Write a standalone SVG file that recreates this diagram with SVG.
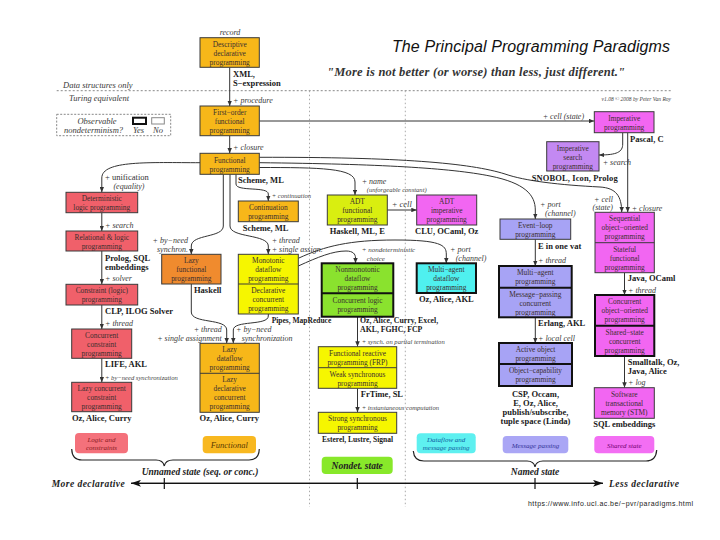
<svg xmlns="http://www.w3.org/2000/svg" width="720" height="540" viewBox="0 0 720 540">
<defs>
<marker id="a" viewBox="0 0 6 5" markerWidth="5.5" markerHeight="4.5" refX="6" refY="2.5" orient="auto" markerUnits="userSpaceOnUse"><path d="M0,0 L6,2.5 L0,5 z" fill="#333"/></marker>
<marker id="ax" viewBox="0 0 10 7" markerWidth="10" markerHeight="7" refX="10" refY="3.5" orient="auto" markerUnits="userSpaceOnUse"><path d="M0,0 L10,3.5 L0,7 L2.5,3.5 z" fill="#111"/></marker>
<style>
.b{stroke:#3a3a3a;stroke-width:1}
.k{stroke:#111;stroke-width:2}
.t{font-family:"Liberation Serif",serif;font-size:7.4px;fill:#3b2f2f;text-anchor:middle}
.L{font-family:"Liberation Serif",serif;font-size:8.5px;font-weight:bold;fill:#1a1a1a}
.i{font-family:"Liberation Serif",serif;font-size:8px;font-style:italic;fill:#3a3a3a}
.s{font-family:"Liberation Serif",serif;font-size:6.6px;font-style:italic;fill:#444}
.c{fill:none;stroke:#333;stroke-width:1;marker-end:url(#a)}
.m{text-anchor:middle}
.e{text-anchor:end}
.or{fill:#f7b719}.lf{fill:#f08b2e}.rd{fill:#f0606a}.ye{fill:#f6f600}.yg{fill:#d9ee10}
.gr{fill:#8ae22e}.cy{fill:#4ff0ef}.lv{fill:#a7a3f5}.mg{fill:#f266f2}.pu{fill:#c389f2}
.p{font-family:"Liberation Serif",serif;font-style:italic;text-anchor:middle}
.h{font-family:"Liberation Serif",serif;font-style:italic;font-weight:bold;font-size:9.5px;fill:#222}
</style>
</defs>
<rect width="720" height="540" fill="#fff"/>

<g id="title">
<text x="392" y="52" font-family="Liberation Sans,sans-serif" font-style="italic" font-size="16" textLength="278" fill="#111">The Principal Programming Paradigms</text>
<text x="327" y="75.5" font-family="Liberation Serif,serif" font-style="italic" font-weight="bold" font-size="12.5" textLength="298" fill="#333">"More is not better (or worse) than less, just different."</text>
<text x="671" y="100.5" class="s e" style="font-size:5.5px">v1.08 © 2008 by Peter Van Roy</text>
</g>

<g id="regions" fill="none">
<line x1="56.7" y1="90.7" x2="672.7" y2="90.7" stroke="#888" stroke-dasharray="2,2"/>
<line x1="309.5" y1="90.7" x2="309.5" y2="507" stroke="#aaa" stroke-dasharray="1.5,2.5"/>
<line x1="405.3" y1="90.7" x2="405.3" y2="507" stroke="#aaa" stroke-dasharray="1.5,2.5"/>
<text x="63" y="88" class="i" style="font-size:8.5px">Data structures only</text>
<text x="69" y="100.5" class="i" style="font-size:8.5px">Turing equivalent</text>
</g>

<g id="legend">
<rect x="56.7" y="114.3" width="114" height="21.4" fill="none" stroke="#888" stroke-dasharray="2,1.5"/>
<text x="97" y="123.5" class="i m" style="font-size:8.5px">Observable</text>
<rect x="133" y="117.7" width="13" height="6.3" fill="none" stroke="#111" stroke-width="2"/>
<rect x="151.7" y="117.7" width="12.6" height="6.3" fill="none" stroke="#888" stroke-width="1"/>
<text x="64" y="132.5" class="i" style="font-size:8.5px">nondeterminism?</text>
<text x="133" y="132.5" class="i" style="font-size:8.5px">Yes</text>
<text x="153" y="132.5" class="i" style="font-size:8.5px">No</text>
</g>

<g id="connectors">
<path class="c" d="M229.7,67.3 L229.7,106"/>
<path class="c" d="M229.7,135.7 L229.7,153.3"/>
<path class="c" d="M259.3,121 L594.3,121"/>
<path class="c" d="M200,162.7 C150,162.7 101.8,160 101.8,178 L101.8,192.3"/>
<path class="c" d="M101.8,212.7 L101.8,231"/>
<path class="c" d="M101.8,251 L101.8,284.3"/>
<path class="c" d="M101.8,305 L101.8,329"/>
<path class="c" d="M101.8,358.3 L101.8,382.3"/>
<path class="c" d="M223.3,174.3 L223.3,226 C223.3,238 191.3,234 191.3,246 L191.3,254.3"/>
<path class="c" d="M230,174.3 L230,226 C230,238 268.3,234 268.3,246 L268.3,254.3"/>
<path class="c" d="M236,174.3 L236,184 C236,192 268.3,186 268.3,194 L268.3,201"/>
<path class="c" d="M191.3,284 L191.3,312 C191.3,324 226.7,318 226.7,330 L226.7,343.3"/>
<path class="c" d="M268.3,314 L268.3,316 C268.3,326 233.3,320 233.3,330 L233.3,343.3"/>
<path class="c" d="M298.3,258.3 C325,246 350,240 395,240 C440,240 446.3,245 446.3,254 L446.3,263.3"/>
<path class="c" d="M298.3,266 C318,257 333,251 346,251 C353,251 355.5,254 355.5,258 L355.5,263.3"/>
<path class="c" d="M387.3,210 L416.7,210"/>
<path class="c" d="M259.3,167.5 C320,167.5 355,168 355,182 L355,195"/>
<path class="c" d="M259.3,162.7 C380,164 450,168 490,176 C525,183 535.3,195 535.3,210 L535.3,219"/>
<path class="c" d="M259.3,157.3 C400,157 470,163 505,174 C525,181 560,185 600,187 C616,188 621.7,196 621.7,212.3"/>
<path class="c" d="M622.7,132.7 L622.7,144 C622.7,152 617,155 599,155"/>
<path class="c" d="M627.7,132.7 L627.7,212.3"/>
<path class="c" d="M535.3,239.3 L535.3,266"/>
<path class="c" d="M535.3,317.3 L535.3,343"/>
<path class="c" d="M624.5,272.7 L624.5,295"/>
<path class="c" d="M624.5,356 L624.5,387.7"/>
<path class="c" d="M357.5,316.7 L357.5,346.7"/>
<path class="c" d="M357.5,388.3 L357.5,412.3"/>
</g>

<g id="labels">
<text x="230" y="35" class="i m">record</text>
<text x="233" y="77" class="L">XML,</text>
<text x="233" y="85.5" class="L">S−expression</text>
<text x="233" y="102.5" class="i">+ procedure</text>
<text x="233" y="150.3" class="i">+ closure</text>
<text x="542.7" y="118.5" class="i">+ cell (state)</text>
<text x="630" y="141.8" class="L">Pascal, C</text>
<text x="602.7" y="165.3" class="i">+ search</text>
<text x="531.7" y="180.8" class="L" textLength="86">SNOBOL, Icon, Prolog</text>
<text x="238" y="182.8" class="L">Scheme, ML</text>
<text x="105" y="180" class="L" style="font-weight:normal;fill:#333">+ unification</text>
<text x="129" y="189" class="i m">(equality)</text>
<text x="271.7" y="198" class="s">+ continuation</text>
<text x="242.7" y="230.5" class="L">Scheme, ML</text>
<text x="105" y="227.5" class="i">+ search</text>
<text x="105" y="261" class="L">Prolog, SQL</text>
<text x="105" y="270" class="L">embeddings</text>
<text x="105" y="281" class="i">+ solver</text>
<text x="105" y="313.8" class="L">CLP, ILOG Solver</text>
<text x="105" y="326" class="i">+ thread</text>
<text x="105" y="367" class="L">LIFE, AKL</text>
<text x="105" y="379.8" class="s">+ by−need synchronization</text>
<text x="101.7" y="421" class="L m">Oz, Alice, Curry</text>
<text x="188" y="242.5" class="i e">+ by−need</text>
<text x="188" y="252" class="i e">synchron.</text>
<text x="194" y="292.8" class="L">Haskell</text>
<text x="271.7" y="242.5" class="i">+ thread</text>
<text x="271.7" y="252" class="i">+ single assign.</text>
<text x="271.7" y="323" class="L" style="font-size:7.5px">Pipes, MapReduce</text>
<text x="221.7" y="331.5" class="i e">+ thread</text>
<text x="221.7" y="341" class="i e">+ single assignment</text>
<text x="236" y="331.5" class="i">+ by−need</text>
<text x="241.7" y="341" class="i">synchronization</text>
<text x="229.3" y="421" class="L m">Oz, Alice, Curry</text>
<text x="361.7" y="183.5" class="i">+ name</text>
<text x="366.7" y="192.3" class="s">(unforgeable constant)</text>
<text x="357.3" y="233.5" class="L m">Haskell, ML, E</text>
<text x="391.7" y="207" class="i" style="font-size:8.5px">+ cell</text>
<text x="446.7" y="233.5" class="L m">CLU, OCaml, Oz</text>
<text x="361.7" y="251.5" class="s" style="font-size:7px">+ nondeterministic</text>
<text x="366.7" y="260.5" class="s" style="font-size:7px">choice</text>
<text x="450" y="251.5" class="i">+ port</text>
<text x="455.7" y="260.5" class="i">(channel)</text>
<text x="446.3" y="302" class="L m">Oz, Alice, AKL</text>
<text x="360" y="322.5" class="L" style="font-size:7.8px">Oz, Alice, Curry, Excel,</text>
<text x="360" y="331.5" class="L" style="font-size:7.8px">AKL, FGHC, FCP</text>
<text x="361.7" y="344" class="s">+ synch. on partial termination</text>
<text x="360.7" y="396.8" class="L">FrTime, SL</text>
<text x="361.7" y="409.8" class="s">+ instantaneous computation</text>
<text x="357.5" y="441.5" class="L m" style="font-size:7.5px">Esterel, Lustre, Signal</text>
<text x="540" y="207" class="i">+ port</text>
<text x="545" y="215.5" class="i">(channel)</text>
<text x="613" y="201.5" class="i e">+ cell</text>
<text x="613" y="210" class="i e">(state)</text>
<text x="631.7" y="210.5" class="i">+ closure</text>
<text x="538" y="248.5" class="L">E in one vat</text>
<text x="538" y="262.5" class="i">+ thread</text>
<text x="538" y="325.8" class="L">Erlang, AKL</text>
<text x="538" y="340.5" class="i">+ local cell</text>
<text x="535.5" y="397" class="L m">CSP, Occam,</text>
<text x="535.5" y="405.5" class="L m">E, Oz, Alice,</text>
<text x="535.5" y="414.5" class="L m">publish/subscribe,</text>
<text x="535.5" y="423.5" class="L m">tuple space (Linda)</text>
<text x="627.7" y="281" class="L">Java, OCaml</text>
<text x="628" y="293.3" class="i">+ thread</text>
<text x="627.7" y="365" class="L">Smalltalk, Oz,</text>
<text x="627.7" y="373.5" class="L">Java, Alice</text>
<text x="628" y="385.3" class="i">+ log</text>
<text x="624.3" y="426.8" class="L m">SQL embeddings</text>
</g>

<g id="n-descriptive"><rect x="200" y="37.7" width="59.3" height="29.6" class="b or"/>
<text class="t" x="229.7" y="46.8">Descriptive</text><text class="t" x="229.7" y="55.8">declarative</text><text class="t" x="229.7" y="64.8">programming</text></g>
<g id="n-firstorder"><rect x="200" y="106" width="59.3" height="29.7" class="b or"/>
<text class="t" x="229.7" y="115">First−order</text><text class="t" x="229.7" y="124">functional</text><text class="t" x="229.7" y="133">programming</text></g>
<g id="n-functional"><rect x="200" y="153.3" width="59.3" height="21" class="b or"/>
<text class="t" x="229.7" y="162.5">Functional</text><text class="t" x="229.7" y="171.5">programming</text></g>
<g id="n-imperative"><rect x="594.3" y="111.7" width="59.7" height="21" class="b mg"/>
<text class="t" x="624.2" y="120.8">Imperative</text><text class="t" x="624.2" y="129.8">programming</text></g>
<g id="n-impsearch"><rect x="546.7" y="141.7" width="52.3" height="29.3" class="b pu"/>
<text class="t" x="572.8" y="150.8">Imperative</text><text class="t" x="572.8" y="159.8">search</text><text class="t" x="572.8" y="168.8">programming</text></g>
<g id="n-deterministic"><rect x="66" y="192.3" width="71.7" height="20.4" class="b rd"/>
<text class="t" x="101.8" y="201">Deterministic</text><text class="t" x="101.8" y="210">logic programming</text></g>
<g id="n-relational"><rect x="66" y="231" width="71.7" height="20" class="b rd"/>
<text class="t" x="101.8" y="239.7">Relational &amp; logic</text><text class="t" x="101.8" y="248.7">programming</text></g>
<g id="n-constraint"><rect x="66" y="284.3" width="71.7" height="20.7" class="b rd"/>
<text class="t" x="101.8" y="293">Constraint (logic)</text><text class="t" x="101.8" y="302">programming</text></g>
<g id="n-concconstraint"><rect x="71.7" y="329" width="60" height="29.3" class="b rd"/>
<text class="t" x="101.7" y="338">Concurrent</text><text class="t" x="101.7" y="347">constraint</text><text class="t" x="101.7" y="356">programming</text></g>
<g id="n-lazyconcconstraint"><rect x="71.7" y="382.3" width="60" height="29.4" class="b rd"/>
<text class="t" x="101.7" y="391.3">Lazy concurrent</text><text class="t" x="101.7" y="400.3">constraint</text><text class="t" x="101.7" y="409.3">programming</text></g>
<g id="n-continuation"><rect x="238.3" y="201" width="60" height="20.7" class="b or"/>
<text class="t" x="268.3" y="209.8">Continuation</text><text class="t" x="268.3" y="218.8">programming</text></g>
<g id="n-lazyfunctional"><rect x="161.7" y="254.3" width="59.3" height="29.7" class="b lf"/>
<text class="t" x="191.3" y="263.3">Lazy</text><text class="t" x="191.3" y="272.3">functional</text><text class="t" x="191.3" y="281.3">programming</text></g>
<g id="n-monotonic"><rect x="238.3" y="254.3" width="60" height="59.7" class="b ye"/>
<line x1="238.3" y1="284" x2="298.3" y2="284" class="b"/>
<text class="t" x="268.3" y="263.3">Monotonic</text><text class="t" x="268.3" y="272.3">dataflow</text><text class="t" x="268.3" y="281.3">programming</text>
<text class="t" x="268.3" y="293">Declarative</text><text class="t" x="268.3" y="302">concurrent</text><text class="t" x="268.3" y="311">programming</text></g>
<g id="n-lazydataflow"><rect x="200" y="343.3" width="59.3" height="69" class="b or"/>
<line x1="200" y1="373.3" x2="259.3" y2="373.3" class="b"/>
<text class="t" x="229.7" y="352.3">Lazy</text><text class="t" x="229.7" y="361.3">dataflow</text><text class="t" x="229.7" y="370.3">programming</text>
<text class="t" x="229.7" y="382">Lazy</text><text class="t" x="229.7" y="391">declarative</text><text class="t" x="229.7" y="400">concurrent</text><text class="t" x="229.7" y="409">programming</text></g>
<g id="n-adtfunctional"><rect x="327.3" y="195" width="60" height="30" class="b yg"/>
<text class="t" x="357.3" y="204">ADT</text><text class="t" x="357.3" y="213">functional</text><text class="t" x="357.3" y="222">programming</text></g>
<g id="n-adtimperative"><rect x="416.7" y="195" width="60" height="30" class="b mg"/>
<text class="t" x="446.7" y="204">ADT</text><text class="t" x="446.7" y="213">imperative</text><text class="t" x="446.7" y="222">programming</text></g>
<g id="n-nonmonotonic"><rect x="321.7" y="263.3" width="71.6" height="53.4" class="k gr"/>
<line x1="321.7" y1="293.3" x2="393.3" y2="293.3" class="k"/>
<text class="t" x="357.5" y="272.3">Nonmonotonic</text><text class="t" x="357.5" y="281.3">dataflow</text><text class="t" x="357.5" y="290.3">programming</text>
<text class="t" x="357.5" y="302.5">Concurrent logic</text><text class="t" x="357.5" y="311.5">programming</text></g>
<g id="n-multiagentdataflow"><rect x="416.7" y="263.3" width="59.3" height="29.7" class="k cy"/>
<text class="t" x="446.3" y="272.3">Multi−agent</text><text class="t" x="446.3" y="281.3">dataflow</text><text class="t" x="446.3" y="290.3">programming</text></g>
<g id="n-frp"><rect x="318.3" y="346.7" width="78.4" height="41.6" class="b ye"/>
<line x1="318.3" y1="367.7" x2="396.7" y2="367.7" class="b"/>
<text class="t" x="357.5" y="355.5">Functional reactive</text><text class="t" x="357.5" y="364.5">programming (FRP)</text>
<text class="t" x="357.5" y="376.5">Weak synchronous</text><text class="t" x="357.5" y="385.5">programming</text></g>
<g id="n-strongsync"><rect x="318.3" y="412.3" width="78.4" height="21" class="b ye"/>
<text class="t" x="357.5" y="421.3">Strong synchronous</text><text class="t" x="357.5" y="430.3">programming</text></g>
<g id="n-eventloop"><rect x="500" y="219" width="70.7" height="20.3" class="b lv"/>
<text class="t" x="535.3" y="227.7">Event−loop</text><text class="t" x="535.3" y="236.7">programming</text></g>
<g id="n-multiagent"><rect x="499" y="266" width="72.7" height="51.3" class="k lv"/>
<line x1="499" y1="287.7" x2="571.7" y2="287.7" class="k"/>
<text class="t" x="535.3" y="275">Multi−agent</text><text class="t" x="535.3" y="284">programming</text>
<text class="t" x="535.3" y="296.5">Message−passing</text><text class="t" x="535.3" y="305.5">concurrent</text><text class="t" x="535.3" y="314.5">programming</text></g>
<g id="n-activeobject"><rect x="499" y="343" width="73" height="43" class="k lv"/>
<line x1="499" y1="364" x2="572" y2="364" class="k"/>
<text class="t" x="535.5" y="351.8">Active object</text><text class="t" x="535.5" y="360.8">programming</text>
<text class="t" x="535.5" y="372.8">Object−capability</text><text class="t" x="535.5" y="381.8">programming</text></g>
<g id="n-seqoop"><rect x="595" y="212.3" width="59.3" height="60.4" class="b mg"/>
<line x1="595" y1="242.7" x2="654.3" y2="242.7" class="b"/>
<text class="t" x="624.7" y="221.3">Sequential</text><text class="t" x="624.7" y="230.3">object−oriented</text><text class="t" x="624.7" y="239.3">programming</text>
<text class="t" x="624.7" y="251.7">Stateful</text><text class="t" x="624.7" y="260.7">functional</text><text class="t" x="624.7" y="269.7">programming</text></g>
<g id="n-concoop"><rect x="595" y="295" width="59.3" height="61" class="k mg"/>
<line x1="595" y1="325.7" x2="654.3" y2="325.7" class="k"/>
<text class="t" x="624.7" y="304">Concurrent</text><text class="t" x="624.7" y="313">object−oriented</text><text class="t" x="624.7" y="322">programming</text>
<text class="t" x="624.7" y="334.7">Shared−state</text><text class="t" x="624.7" y="343.7">concurrent</text><text class="t" x="624.7" y="352.7">programming</text></g>
<g id="n-stm"><rect x="594.3" y="387.7" width="60" height="30.6" class="b mg"/>
<text class="t" x="624.3" y="396.7">Software</text><text class="t" x="624.3" y="405.7">transactional</text><text class="t" x="624.3" y="414.7">memory (STM)</text></g>

<g id="categories">
<rect x="75" y="433" width="53" height="20.3" rx="4" fill="#f4717b"/>
<text x="101.5" y="441.5" class="p" style="font-size:7px" fill="#8a1a22">Logic and</text>
<text x="101.5" y="450" class="p" style="font-size:7px" fill="#8a1a22">constraints</text>
<rect x="202.7" y="436" width="53.3" height="17.3" rx="4" fill="#f8b820"/>
<text x="229.3" y="447.5" class="p" style="font-size:8.5px" fill="#5a3800">Functional</text>
<rect x="416.7" y="433.3" width="59" height="20" rx="4" fill="#5ef0f0"/>
<text x="446.2" y="441.5" class="p" style="font-size:7px" fill="#1060a0">Dataflow and</text>
<text x="446.2" y="450" class="p" style="font-size:7px" fill="#1060a0">message passing</text>
<rect x="502.7" y="436" width="65.6" height="17.3" rx="4" fill="#aaa6f5"/>
<text x="535.5" y="447.5" class="p" style="font-size:7px" fill="#333399">Message passing</text>
<rect x="594.3" y="436" width="60" height="17.3" rx="4" fill="#f36ef3"/>
<text x="624.3" y="447.5" class="p" style="font-size:7px" fill="#700070">Shared state</text>
<rect x="321.7" y="456.7" width="71" height="17.3" rx="4" fill="#88e82a"/>
<text x="357.2" y="468.5" class="h m" fill="#0a3000">Nondet. state</text>
<path d="M71.7,449 Q72,460 82,460 L156,460 Q163,460 164.3,466 Q165.5,460 173,460 L249,460 Q259,460 259.3,449" fill="none" stroke="#222" stroke-width="1.2"/>
<path d="M413.3,451 Q414,461 424,461 L527,461 Q534,461 535,467 Q536,461 543,461 L646,461 Q656,461 656.7,450" fill="none" stroke="#222" stroke-width="1.2"/>
<text x="200" y="474.5" class="h m">Unnamed state (seq. or conc.)</text>
<text x="535" y="474.5" class="h m">Named state</text>
</g>

<g id="axis">
<line x1="131" y1="483.3" x2="603" y2="483.3" stroke="#111" stroke-width="1.2" marker-end="url(#ax)"/>
<line x1="603" y1="483.3" x2="131" y2="483.3" stroke="#111" stroke-width="1.2" marker-end="url(#ax)"/>
<line x1="164.3" y1="478" x2="164.3" y2="489" stroke="#111" stroke-width="1.2"/>
<line x1="357.3" y1="478" x2="357.3" y2="489" stroke="#111" stroke-width="1.2"/>
<line x1="535" y1="478" x2="535" y2="489" stroke="#111" stroke-width="1.2"/>
<text x="51.7" y="486.5" class="h" textLength="73">More declarative</text>
<text x="609" y="486.5" class="h" textLength="70">Less declarative</text>
<text x="528" y="506" font-family="Liberation Sans,sans-serif" font-size="7" textLength="165" fill="#222">https://www.info.ucl.ac.be/~pvr/paradigms.html</text>
</g>
</svg>
